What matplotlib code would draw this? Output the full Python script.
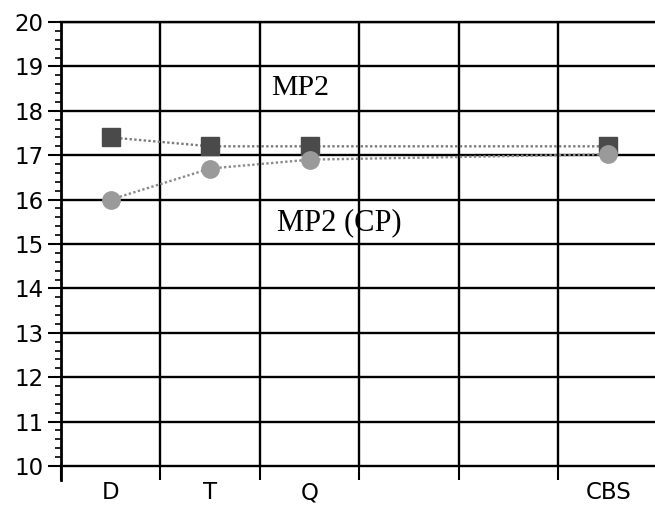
import matplotlib
matplotlib.use("Agg")
import matplotlib.pyplot as plt
from matplotlib.ticker import MultipleLocator, FixedLocator

# basis sets along the x axis (two empty columns between Q and CBS)
categories = ["D", "T", "Q", "", "", "CBS"]
x_pos = [1, 2, 3, 6]
mp2 = [17.4, 17.2, 17.2, 17.2]
mp2_cp = [16.0, 16.7, 16.9, 17.02]

fig = plt.figure(figsize=(6.55, 5.08), dpi=100)
ax = fig.add_axes([0.0931, 0.0827, 0.9069, 0.874])

ax.set_xlim(0.5, 6.47)
ax.set_ylim(10, 20)

# grid of black lines
for y in range(11, 21):
    ax.axhline(y, color="black", lw=1.7, zorder=1)
for xb in [1.5, 2.5, 3.5, 4.5, 5.5]:
    ax.axvline(xb, color="black", lw=1.7, zorder=1)

ax.plot(x_pos, mp2, color="#7a7a7a", lw=1.7, ls=(0, (1, 1)),
        marker="s", ms=12.5, mfc="#4a4a4a", mec="#4a4a4a", zorder=3)
ax.plot(x_pos, mp2_cp, color="#8a8a8a", lw=1.7, ls=(0, (1, 1)),
        marker="o", ms=12.5, mfc="#9a9a9a", mec="#9a9a9a", zorder=3)

ax.text(2.61, 18.36, "MP2", family="Liberation Serif", fontsize=21.5)
ax.text(2.67, 15.32, "MP2 (CP)", family="Liberation Serif", fontsize=22)

# y axis ticks
ax.yaxis.set_major_locator(MultipleLocator(1))
ax.yaxis.set_minor_locator(MultipleLocator(0.2))
ax.tick_params(axis="y", which="major", direction="out", length=9.5, width=1.5,
               labelsize=16.5, pad=3)
ax.tick_params(axis="y", which="minor", direction="out", length=4.5, width=1.2)

# x axis: ticks at column edges, labels at column centres
ax.xaxis.set_major_locator(FixedLocator([0.5, 1.5, 2.5, 3.5, 4.5, 5.5]))
ax.xaxis.set_minor_locator(FixedLocator([1, 2, 3, 4, 5, 6]))
ax.xaxis.set_major_formatter(plt.NullFormatter())
ax.set_xticks([1, 2, 3, 4, 5, 6], categories, minor=True)
ax.tick_params(axis="x", which="major", direction="out", length=10, width=1.5)
ax.tick_params(axis="x", which="minor", length=0, labelsize=16.5, pad=11)

for lab in ax.get_yticklabels() + ax.get_xticklabels(minor=True):
    lab.set_family("DejaVu Sans")

ax.spines["right"].set_visible(False)
ax.spines["left"].set_linewidth(2)
ax.spines["left"].set_bounds(9.68, 20)
ax.spines["bottom"].set_linewidth(1.7)
ax.spines["top"].set_linewidth(1.7)

fig.savefig("out.png", dpi=100)
